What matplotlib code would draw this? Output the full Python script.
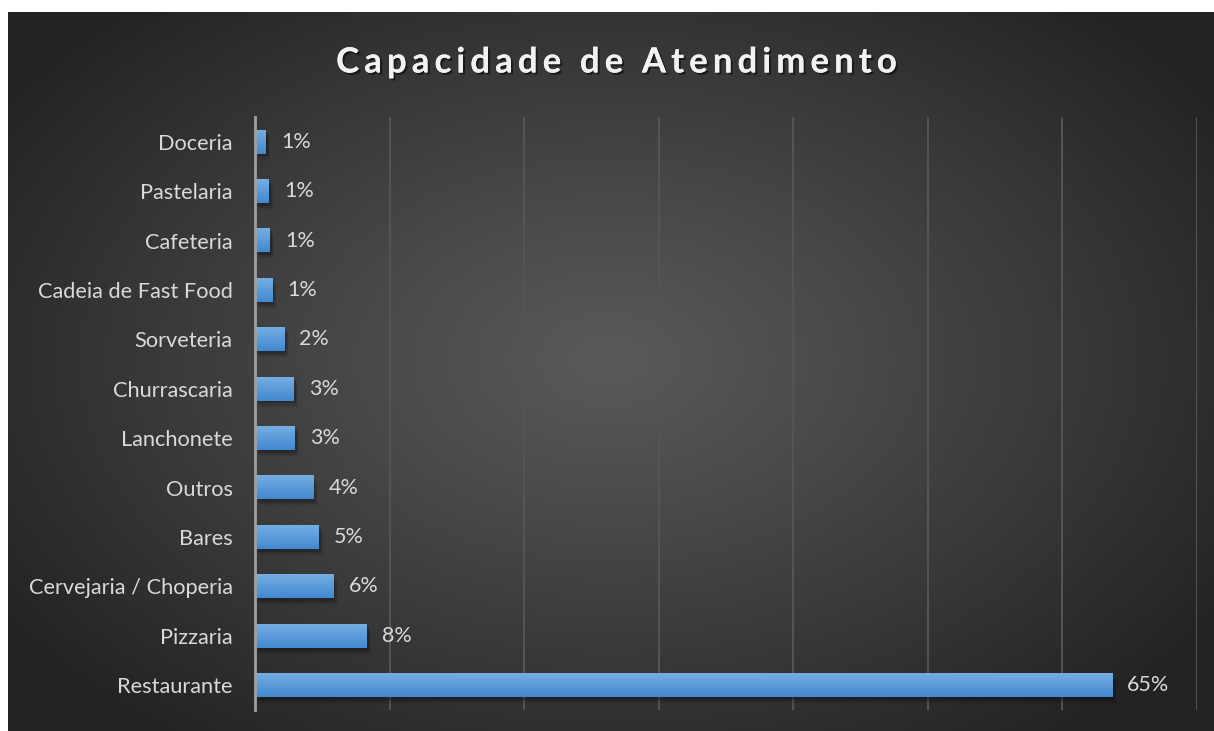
import numpy as np
import matplotlib.pyplot as plt
from matplotlib import patheffects
from matplotlib.colors import LinearSegmentedColormap
from matplotlib.font_manager import FontProperties, findfont, get_font

plt.rcParams['font.family'] = ['Lato', 'DejaVu Sans']

# dados (percentual por tipo de estabelecimento)
categorias = ['Restaurante', 'Pizzaria', 'Cervejaria / Choperia', 'Bares', 'Outros',
              'Lanchonete', 'Churrascaria', 'Sorveteria', 'Cadeia de Fast Food',
              'Cafeteria', 'Pastelaria', 'Doceria']
valores = [64.6, 8.4, 5.9, 4.8, 4.4, 3.0, 2.9, 2.2, 1.3, 1.1, 1.05, 0.8]
titulo = 'Capacidade de Atendimento'

W, H = 1214, 731
fig = plt.figure(figsize=(W / 100, H / 100), dpi=100)
fig.patch.set_facecolor('white')

# fundo escuro com gradiente radial
bg = fig.add_axes([8 / W, 0, (W - 8) / W, (H - 12) / H])
bg.set_zorder(0)
gx, gy = np.meshgrid(np.linspace(8, W, 400), np.linspace(12, H, 250))
d = np.sqrt(((gx - 610) / 720) ** 2 + ((gy - 360) / 470) ** 2)
d = np.clip(d, 0, 1)
tom = 0.35 - (0.35 - 0.14) * d ** 1.1
bg.imshow(np.dstack([tom, tom, tom]), aspect='auto', extent=[0, 1, 0, 1], origin='upper')
bg.axis('off')

ax = fig.add_axes([255 / W, 1 - 710 / H, (1197 - 255) / W, (710 - 117) / H])
ax.set_zorder(1)
ax.patch.set_alpha(0)

xmax = 71
y = np.arange(len(categorias))
barras = ax.barh(y, valores, height=0.48, color='#4a8cd2', zorder=3)
grad = np.linspace(0, 1, 64).reshape(-1, 1)
cmap = LinearSegmentedColormap.from_list('azul', ['#75aee3', '#4288d0'])
sombra_barra = [patheffects.withSimplePatchShadow(offset=(1.5, -2), shadow_rgbFace='black', alpha=0.18),
                patheffects.withSimplePatchShadow(offset=(2.5, -3.5), shadow_rgbFace='black', alpha=0.12),
                patheffects.withSimplePatchShadow(offset=(3.5, -5), shadow_rgbFace='black', alpha=0.06),
                patheffects.Normal()]
for b, v, yi in zip(barras, valores, y):
    b.set_path_effects(sombra_barra)
    ax.imshow(grad, cmap=cmap, aspect='auto', origin='upper',
              extent=[0, v, yi - 0.24, yi + 0.24], zorder=4)
    ax.annotate(f'{v:.0f}%', (v, yi), xytext=(11, 0), textcoords='offset points',
                va='center', ha='left', fontsize=15.5, color='#d9d9d9')

ax.set_xlim(0, xmax)
ax.set_ylim(-0.5, len(categorias) - 0.5)
ax.set_xticks(np.linspace(0, xmax, 8))
ax.grid(axis='x', color='#555555', lw=1.4)
ax.set_axisbelow(True)
ax.set_yticks(y, categorias)
ax.tick_params(axis='both', length=0)
ax.tick_params(axis='x', labelbottom=False)
ax.tick_params(axis='y', pad=16, labelsize=15.7, labelcolor='#d9d9d9')
for s in ['top', 'right', 'bottom']:
    ax.spines[s].set_visible(False)
ax.spines['left'].set_color('#a0a0a0')
ax.spines['left'].set_linewidth(2)
ax.spines['left'].set_zorder(6)

# título com espaçamento entre letras
prop = FontProperties(family='Lato', weight='bold', size=25)
fonte = get_font(findfont(prop))
fonte.set_size(25, 100)
extra = 5.1
avancos = []
for c in titulo:
    g = fonte.load_char(ord(c))
    avancos.append(g.linearHoriAdvance / 65536 + extra)
total = sum(avancos) - extra
x0 = 616.5 - total / 2
sombra = [patheffects.withSimplePatchShadow(offset=(1.5, -1.5), shadow_rgbFace='black', alpha=0.5),
          patheffects.Normal()]
for c, a in zip(titulo, avancos):
    fig.text(x0 / W, 1 - 62.5 / H, c, fontproperties=prop, color='#f2f2f2',
             va='center', ha='left', path_effects=sombra, zorder=5)
    x0 += a

fig.savefig('out.png', dpi=100, facecolor=fig.get_facecolor())
